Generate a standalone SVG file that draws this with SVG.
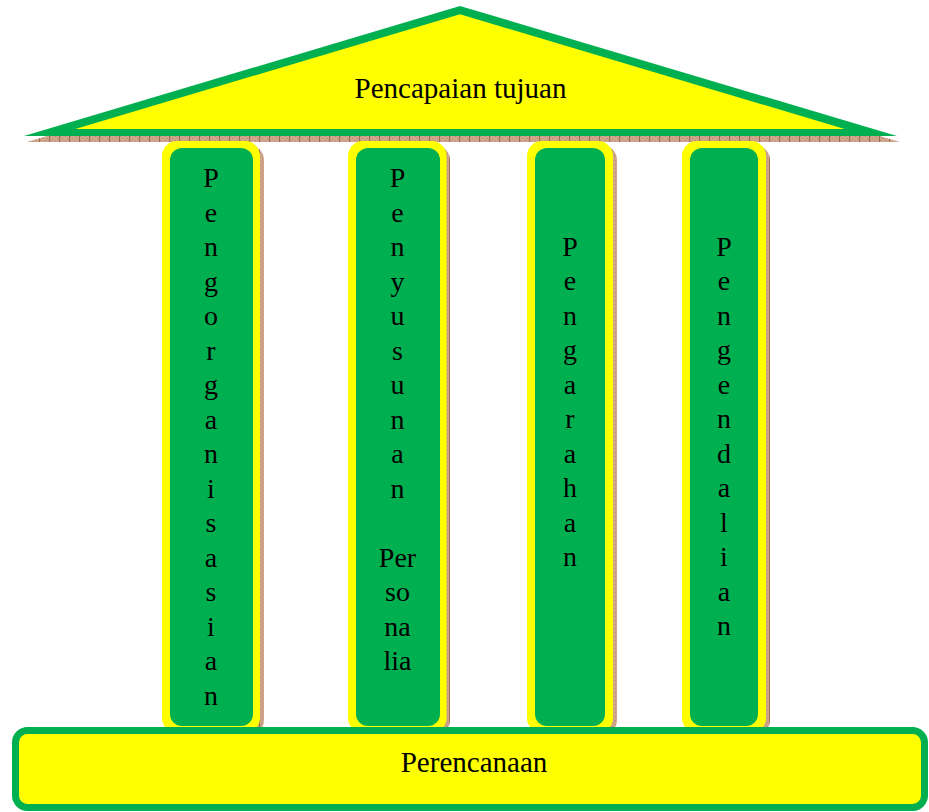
<svg xmlns="http://www.w3.org/2000/svg" width="929" height="812" viewBox="0 0 929 812">
<defs>
<pattern id="shade" width="10" height="4" patternUnits="userSpaceOnUse">
<rect width="10" height="4" fill="#cfa68c"/>
<rect x="0" y="0" width="1" height="1" fill="#b88a70"/>
<rect x="2" y="2" width="1" height="1" fill="#b88a70"/>
<rect x="5" y="0" width="1" height="1" fill="#b88a70"/>
<rect x="7" y="2" width="1" height="1" fill="#b88a70"/>
<rect x="9" y="0" width="1" height="4" fill="#9c6a50"/>
</pattern>
<style>
.t{font-family:"Liberation Serif","Times New Roman",serif;fill:#000;text-anchor:middle}
.big{font-size:29px}
.v{font-size:28px}
.y{fill:#FFFF00}
.g{fill:#00B050}
.sh{fill:url(#shade)}
</style>
</defs>
<rect width="929" height="812" fill="#ffffff"/>

<g id="roof">
<polygon class="sh" points="27,142 463,12 900,142"/>
<polygon class="g" points="24,136 460,6 897,136"/>
<polygon class="y" points="75.3,129 460,14.3 844.7,129"/>
<text class="t big" x="460.5" y="98">Pencapaian tujuan</text>
</g>

<g id="pillar1">
<rect class="sh" x="166" y="145" width="98" height="590" rx="15"/>
<rect class="y" x="162" y="141" width="98" height="592" rx="15"/>
<rect class="g" x="170" y="148" width="83" height="578" rx="12"/>
<text class="t v" x="211" y="187.3">
<tspan x="211" y="187.3">P</tspan><tspan x="211" dy="34.5">e</tspan><tspan x="211" dy="34.5">n</tspan><tspan x="211" dy="34.5">g</tspan><tspan x="211" dy="34.5">o</tspan><tspan x="211" dy="34.5">r</tspan><tspan x="211" dy="34.5">g</tspan><tspan x="211" dy="34.5">a</tspan><tspan x="211" dy="34.5">n</tspan><tspan x="211" dy="34.5">i</tspan><tspan x="211" dy="34.5">s</tspan><tspan x="211" dy="34.5">a</tspan><tspan x="211" dy="34.5">s</tspan><tspan x="211" dy="34.5">i</tspan><tspan x="211" dy="34.5">a</tspan><tspan x="211" dy="34.5">n</tspan>
</text>
</g>

<g id="pillar2">
<rect class="sh" x="352" y="145" width="98" height="590" rx="15"/>
<rect class="y" x="348" y="141" width="98.5" height="592" rx="15"/>
<rect class="g" x="356" y="148" width="84" height="578" rx="12"/>
<text class="t v" x="397.5" y="187.3">
<tspan x="397.5" y="187.3">P</tspan><tspan x="397.5" dy="34.5">e</tspan><tspan x="397.5" dy="34.5">n</tspan><tspan x="397.5" dy="34.5">y</tspan><tspan x="397.5" dy="34.5">u</tspan><tspan x="397.5" dy="34.5">s</tspan><tspan x="397.5" dy="34.5">u</tspan><tspan x="397.5" dy="34.5">n</tspan><tspan x="397.5" dy="34.5">a</tspan><tspan x="397.5" dy="34.5">n</tspan><tspan x="397.5" dy="69">Per</tspan><tspan x="397.5" dy="34.5">so</tspan><tspan x="397.5" dy="34.5">na</tspan><tspan x="397.5" dy="34.5">lia</tspan>
</text>
</g>

<g id="pillar3">
<rect class="sh" x="531" y="145" width="86" height="590" rx="15"/>
<rect class="y" x="527" y="141" width="86" height="592" rx="15"/>
<rect class="g" x="535" y="148" width="70" height="578" rx="12"/>
<text class="t v" x="570" y="255.7">
<tspan x="570" y="255.7">P</tspan><tspan x="570" dy="34.5">e</tspan><tspan x="570" dy="34.5">n</tspan><tspan x="570" dy="34.5">g</tspan><tspan x="570" dy="34.5">a</tspan><tspan x="570" dy="34.5">r</tspan><tspan x="570" dy="34.5">a</tspan><tspan x="570" dy="34.5">h</tspan><tspan x="570" dy="34.5">a</tspan><tspan x="570" dy="34.5">n</tspan>
</text>
</g>

<g id="pillar4">
<rect class="sh" x="686" y="145" width="84" height="590" rx="15"/>
<rect class="y" x="682" y="141" width="84" height="592" rx="15"/>
<rect class="g" x="690" y="148" width="68" height="578" rx="12"/>
<text class="t v" x="724" y="255.7">
<tspan x="724" y="255.7">P</tspan><tspan x="724" dy="34.5">e</tspan><tspan x="724" dy="34.5">n</tspan><tspan x="724" dy="34.5">g</tspan><tspan x="724" dy="34.5">e</tspan><tspan x="724" dy="34.5">n</tspan><tspan x="724" dy="34.5">d</tspan><tspan x="724" dy="34.5">a</tspan><tspan x="724" dy="34.5">l</tspan><tspan x="724" dy="34.5">i</tspan><tspan x="724" dy="34.5">a</tspan><tspan x="724" dy="34.5">n</tspan>
</text>
</g>

<g id="base">
<rect x="15.5" y="730.5" width="909" height="77" rx="12" fill="#FFFF00" stroke="#00B050" stroke-width="7"/>
<text class="t big" x="474" y="771.7">Perencanaan</text>
</g>

<g id="connectors"/>
</svg>
